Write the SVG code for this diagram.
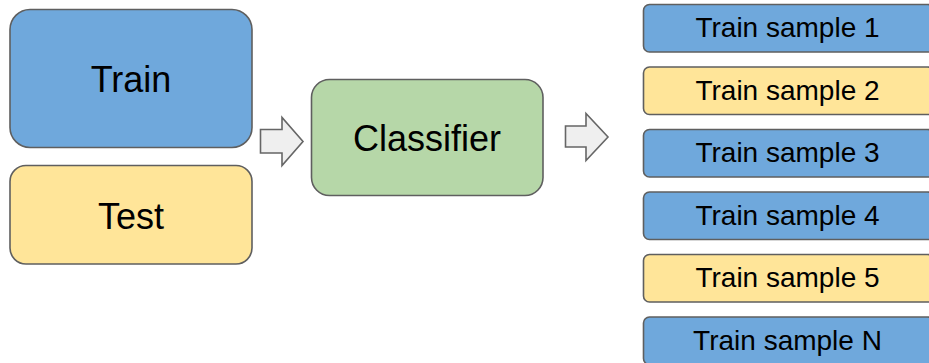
<svg xmlns="http://www.w3.org/2000/svg" width="929" height="363" viewBox="0 0 929 363">
<style>
.box{stroke:#5f5f5f;stroke-width:1.6}
.blue{fill:#6fa8dc}
.yellow{fill:#ffe599}
.green{fill:#b6d7a8}
.arrow{fill:#efefef;stroke:#666666;stroke-width:1.6;stroke-linejoin:miter}
text{font-family:"Liberation Sans",Arial,sans-serif;fill:#000;text-anchor:middle}
.big{font-size:36px}
.small{font-size:28px}
</style>
<rect x="0" y="0" width="929" height="363" fill="#ffffff"/>
<g id="train">
<rect class="box blue" x="10" y="9.5" width="242" height="138" rx="20"/>
<text class="big" x="131" y="92">Train</text>
</g>
<g id="test">
<rect class="box yellow" x="10" y="165.5" width="242" height="98.5" rx="16"/>
<text class="big" x="131" y="229">Test</text>
</g>
<g id="classifier">
<rect class="box green" x="311.5" y="79.5" width="231.5" height="116" rx="18"/>
<text class="big" x="427" y="151">Classifier</text>
</g>
<g id="connectors">
<polygon class="arrow" points="260.5,129.5 282,129.5 282,117.5 303,141.5 282,165.5 282,153 260.5,153"/>
<polygon class="arrow" points="565.5,126 586,126 586,113.5 608,137 586,160.5 586,147 565.5,147"/>
</g>
<g id="sample1">
<rect class="box blue" x="643.5" y="4.5" width="290" height="47.5" rx="6"/>
<text class="small" x="787.5" y="37">Train sample 1</text>
</g>
<g id="sample2">
<rect class="box yellow" x="643.5" y="67" width="290" height="47.5" rx="6"/>
<text class="small" x="787.5" y="99.5">Train sample 2</text>
</g>
<g id="sample3">
<rect class="box blue" x="643.5" y="129.5" width="290" height="47.5" rx="6"/>
<text class="small" x="787.5" y="162">Train sample 3</text>
</g>
<g id="sample4">
<rect class="box blue" x="643.5" y="192" width="290" height="47.5" rx="6"/>
<text class="small" x="787.5" y="224.5">Train sample 4</text>
</g>
<g id="sample5">
<rect class="box yellow" x="643.5" y="254.5" width="290" height="47.5" rx="6"/>
<text class="small" x="787.5" y="287">Train sample 5</text>
</g>
<g id="sampleN">
<rect class="box blue" x="643.5" y="317" width="290" height="47.5" rx="6"/>
<text class="small" x="787.5" y="349.5">Train sample N</text>
</g>
</svg>
